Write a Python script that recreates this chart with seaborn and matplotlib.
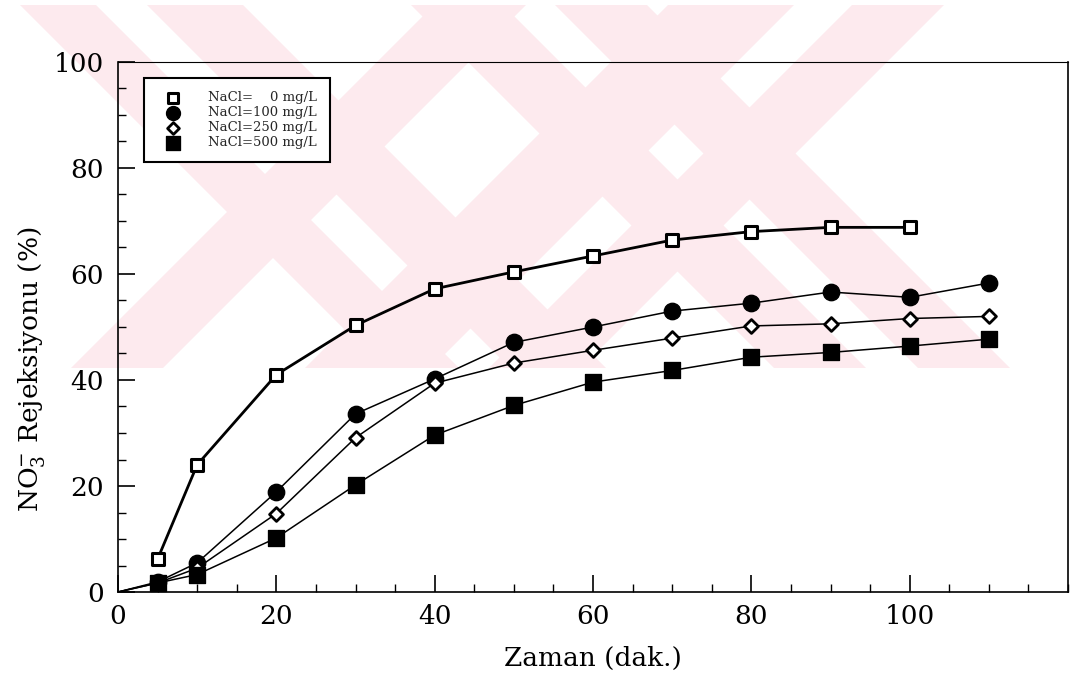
import matplotlib
matplotlib.use("Agg")
import seaborn as sns
import matplotlib.pyplot as plt
from matplotlib.patches import Polygon
from matplotlib.ticker import MultipleLocator

# sampling times (dak.)
time = [5, 10, 20, 30, 40, 50, 60, 70, 80, 90, 100, 110]
time_0 = time[:11]

# NO3- rejection (%) for each NaCl level
nacl_0 = [6.2, 24.0, 41.0, 50.3, 57.2, 60.4, 63.4, 66.4, 68.0, 68.8, 68.8]
nacl_100 = [1.9, 5.5, 18.9, 33.6, 40.2, 47.1, 50.0, 53.0, 54.5, 56.6, 55.6, 58.3]
nacl_250 = [1.7, 4.5, 14.8, 29.1, 39.4, 43.2, 45.6, 47.9, 50.2, 50.6, 51.6, 52.0]
nacl_500 = [1.7, 3.3, 10.2, 20.2, 29.6, 35.2, 39.6, 41.8, 44.3, 45.2, 46.4, 47.7]

labels = ["NaCl=    0 mg/L", "NaCl=100 mg/L", "NaCl=250 mg/L", "NaCl=500 mg/L"]

# background watermark: diagonal bands in pixels, between y=5 and y=368
# "\" bands as ranges of x - y, "/" bands as ranges of x + y
DOWN_BANDS = [(15, 91), (142, 238), (406, 498), (550, 642)]
UP_BANDS = [(439, 531), (673, 799), (857, 949)]
WM_TOP, WM_BOTTOM = 5, 368

sns.set_theme(style="white")
plt.rcParams["font.family"] = ["DejaVu Serif"]
plt.rcParams["mathtext.fontset"] = "dejavuserif"

W, H = 1074, 684
fig = plt.figure(figsize=(W / 100, H / 100), dpi=100)
fig.patch.set_facecolor("white")


def add_shape(poly):
    pts = [(x / W, 1 - y / H) for x, y in poly]
    fig.patches.append(Polygon(pts, closed=True, transform=fig.transFigure,
                               facecolor="#fdeaee", edgecolor="none", zorder=-5))


for c1, c2 in DOWN_BANDS:
    add_shape([(c1 + WM_TOP, WM_TOP), (c2 + WM_TOP, WM_TOP),
               (c2 + WM_BOTTOM, WM_BOTTOM), (c1 + WM_BOTTOM, WM_BOTTOM)])
for c1, c2 in UP_BANDS:
    add_shape([(c1 - WM_TOP, WM_TOP), (c2 - WM_TOP, WM_TOP),
               (c2 - WM_BOTTOM, WM_BOTTOM), (c1 - WM_BOTTOM, WM_BOTTOM)])

ax = fig.add_axes([118 / W, 1 - 592 / H, 950 / W, 530 / H])
ax.set_zorder(2)
ax.set_facecolor("none")

# curves (the salt series start at the origin)
sns.lineplot(x=time_0, y=nacl_0, ax=ax, color="black", lw=2.0)
for vals in [nacl_100, nacl_250, nacl_500]:
    sns.lineplot(x=[0] + time, y=[0] + vals, ax=ax, color="black", lw=1.1)

sns.scatterplot(x=time_0, y=nacl_0, ax=ax, marker="s", s=85, facecolor="white",
                edgecolor="black", linewidth=2.2, zorder=5, label=labels[0])
sns.scatterplot(x=time, y=nacl_100, ax=ax, marker="o", s=140, color="black",
                edgecolor="black", zorder=5, label=labels[1])
sns.scatterplot(x=time, y=nacl_250, ax=ax, marker="D", s=50, facecolor="white",
                edgecolor="black", linewidth=2.0, zorder=5, label=labels[2])
sns.scatterplot(x=time, y=nacl_500, ax=ax, marker="s", s=140, color="black",
                edgecolor="black", zorder=5, label=labels[3])

ax.set_xlim(0, 120)
ax.set_ylim(0, 100)
ax.set_xticks([0, 20, 40, 60, 80, 100])
ax.set_yticks([0, 20, 40, 60, 80, 100])
ax.xaxis.set_minor_locator(MultipleLocator(5))
ax.yaxis.set_minor_locator(MultipleLocator(5))
ax.tick_params(axis="both", which="major", direction="in", length=12, width=1.2,
               labelsize=19, color="black", labelcolor="black")
ax.tick_params(axis="x", which="major", pad=9)
ax.tick_params(axis="y", which="major", pad=10)
ax.tick_params(axis="both", which="minor", direction="in", length=6, width=1.0,
               color="black")
ax.tick_params(bottom=True, left=True, top=False, right=False)
ax.tick_params(which="minor", bottom=True, left=True, top=False, right=False)

for side in ["left", "bottom", "right", "top"]:
    ax.spines[side].set_color("black")
    ax.spines[side].set_linewidth(1.2)
ax.spines["top"].set_linewidth(0.8)

ax.set_xlabel("Zaman (dak.)", fontsize=19, color="black", labelpad=12)
ax.set_ylabel(r"NO$_3^{-}$ Rejeksiyonu (%)", fontsize=19, color="black")
ax.yaxis.set_label_coords(-0.075, 0.42)

leg = ax.legend(loc="upper left", bbox_to_anchor=(0.027, 0.97), borderaxespad=0,
                fontsize=9.5, frameon=True, fancybox=False, labelspacing=0.15,
                handlelength=2.5, handletextpad=1.35, borderpad=1.0,
                markerscale=0.85)
leg.get_frame().set_edgecolor("black")
leg.get_frame().set_linewidth(1.5)
leg.get_frame().set_facecolor("white")
leg.get_frame().set_alpha(1)

fig.savefig("out.png", dpi=100)
